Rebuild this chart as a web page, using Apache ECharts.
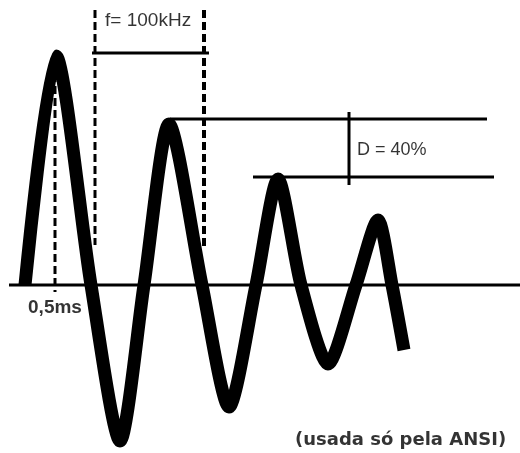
<!DOCTYPE html>
<html>
<head>
<meta charset="utf-8">
<script src="https://cdn.jsdelivr.net/npm/echarts@6/dist/echarts.min.js"></script>
<style>
html,body{margin:0;padding:0;background:#fff;}
#chart{width:520px;height:453px;}
</style>
</head>
<body>
<div id="chart"></div>
<script>
// Waveform (damped ring wave): x position, amplitude
// (start, peaks, troughs and zero crossings)
const waveX = [25, 56, 91, 120, 144, 169, 202, 229, 256, 278, 301, 328, 356, 378, 392, 404];
const waveY = [0, 229, 0, -156, 0, 161, 0, -122, 0, 106, 0, -79, 0, 65, 0, -65];

// Annotation lines [x, y]
const zeroLine = [[9, 0], [520, 0]];
const fLine = [[92, 232], [209, 232]];
const fLeftDash = [[95, 275], [95, 40]];
const fRightDash = [[204, 275], [204, 35]];
const msDash = [[55, 223], [55, -7]];
const peak2Line = [[170, 166], [487, 166]];
const peak3Line = [[253, 108], [494, 108]];
const dVertical = [[349, 173], [349, 100]];

// Text labels
const labelTexts = ['f= 100kHz', 'D = 40%', '0,5ms', '(usada só pela ANSI)'];
const labelPos = [[105, 264], [357, 135], [28, -23], [295, -155]];

const chart = echarts.init(document.getElementById('chart'), null, {renderer: 'canvas'});

function seg(data, width, type) {
  return {
    type: 'line', data: data, symbol: 'none', silent: true,
    lineStyle: {color: '#000', width: width, type: type || 'solid', cap: 'butt'},
    z: 2, animation: false
  };
}

const labelStyles = [
  {fontFamily: 'Liberation Sans', fontSize: 19, fontWeight: 'normal'},
  {fontFamily: 'Liberation Sans', fontSize: 18, fontWeight: 'normal'},
  {fontFamily: 'Liberation Sans', fontSize: 19, fontWeight: 'bold'},
  {fontFamily: 'DejaVu Sans', fontSize: 18, fontWeight: 'bold'}
];

const option = {
  backgroundColor: '#fff',
  animation: false,
  grid: {left: 0, right: 0, top: 0, bottom: 0},
  xAxis: {type: 'value', min: 0, max: 520, show: false},
  yAxis: {type: 'value', min: -168, max: 285, show: false},
  series: [
    seg(zeroLine, 3),
    seg(fLine, 3),
    seg(peak2Line, 3),
    seg(peak3Line, 3),
    seg(dVertical, 3),
    seg(fLeftDash, 3, [8, 4]),
    seg(fRightDash, 4, [8, 4]),
    seg(msDash, 3, [8, 4]),
    {
      type: 'line',
      data: waveX.map((x, i) => [x, waveY[i]]),
      symbol: 'none', smooth: 0.25, silent: true,
      lineStyle: {color: '#000', width: 13, cap: 'butt', join: 'round'},
      z: 3
    },
    {
      type: 'scatter',
      data: labelPos.map((p, i) => ({
        value: p,
        label: Object.assign({show: true, formatter: labelTexts[i], position: 'right', distance: 0, color: '#000000', textBorderWidth: 0}, labelStyles[i])
      })),
      symbolSize: 0.1,
      itemStyle: {color: 'rgba(0,0,0,0)'},
      silent: true,
      z: 4
    }
  ]
};
chart.setOption(option);
</script>
</body>
</html>
